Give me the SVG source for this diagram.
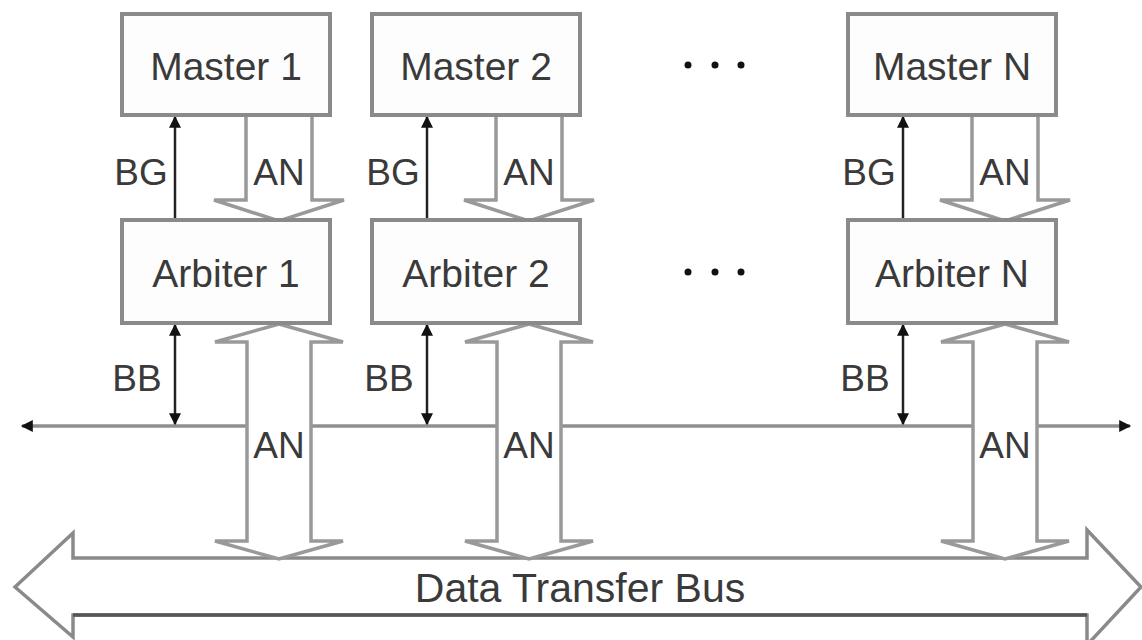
<svg xmlns="http://www.w3.org/2000/svg" width="1142" height="640" viewBox="0 0 1142 640">
<defs>
<marker id="ah" viewBox="0 0 10 10" refX="9" refY="5" markerWidth="14" markerHeight="12" markerUnits="userSpaceOnUse" orient="auto-start-reverse">
<path d="M0,0 L10,5 L0,10 z" fill="#111"/>
</marker>
</defs>
<style>
.box{fill:#fdfdfd;stroke:#8a8a8a;stroke-width:4}
.t{font-family:"Liberation Sans",Arial,sans-serif;fill:#3a3a3a;text-anchor:middle}
.lbl{font-size:37px}
.nm{font-size:39px}
.sig{stroke:#222;stroke-width:2.5;fill:none}
.fat{fill:#fff;stroke:#999;stroke-width:3.5;stroke-linejoin:miter}
.bus{stroke:#8f8f8f;stroke-width:3.5;fill:none}
.dot{fill:#111}
</style>
<rect width="1142" height="640" fill="#fff"/>
<g id="data-transfer-bus">
<polygon points="15,587 73,533 73,558 1087,558 1087,530 1141,587 1087,645 1087,615 73,615 73,637" fill="#fff" stroke="#8a8a8a" stroke-width="3.5"/>
<line x1="73" y1="615" x2="1087" y2="615" stroke="#555" stroke-width="3.5"/>
<text class="t" x="580" y="602" font-size="41">Data Transfer Bus</text>
</g>
<g id="connectors">
<line class="bus" x1="22" y1="426" x2="1130" y2="426" marker-start="url(#ah)" marker-end="url(#ah)"/>
<line class="sig" x1="175" y1="220" x2="175" y2="117" marker-end="url(#ah)"/>
<line class="sig" x1="427" y1="220" x2="427" y2="117" marker-end="url(#ah)"/>
<line class="sig" x1="903" y1="220" x2="903" y2="117" marker-end="url(#ah)"/>
<line class="sig" x1="175" y1="325" x2="175" y2="424" marker-start="url(#ah)" marker-end="url(#ah)"/>
<line class="sig" x1="427" y1="325" x2="427" y2="424" marker-start="url(#ah)" marker-end="url(#ah)"/>
<line class="sig" x1="903" y1="325" x2="903" y2="424" marker-start="url(#ah)" marker-end="url(#ah)"/>
<polygon class="fat" points="246,115 246,200 214,200 279,221 344,200 312,200 312,115"/>
<polygon class="fat" points="496,115 496,200 464,200 529,221 594,200 562,200 562,115"/>
<polygon class="fat" points="972,115 972,200 940,200 1005,221 1070,200 1038,200 1038,115"/>
<polygon class="fat" points="279,324 343,342 311,342 311,541 343,541 279,559 215,541 247,541 247,342 215,342"/>
<polygon class="fat" points="529,324 593,342 561,342 561,541 593,541 529,559 465,541 497,541 497,342 465,342"/>
<polygon class="fat" points="1005,324 1069,342 1037,342 1037,541 1069,541 1005,559 941,541 973,541 973,342 941,342"/>
<text class="t lbl" x="141" y="185">BG</text>
<text class="t lbl" x="393" y="185">BG</text>
<text class="t lbl" x="869" y="185">BG</text>
<text class="t lbl" x="279" y="185">AN</text>
<text class="t lbl" x="529" y="185">AN</text>
<text class="t lbl" x="1005" y="185">AN</text>
<text class="t lbl" x="137" y="391">BB</text>
<text class="t lbl" x="389" y="391">BB</text>
<text class="t lbl" x="865" y="391">BB</text>
<text class="t lbl" x="279" y="458">AN</text>
<text class="t lbl" x="529" y="458">AN</text>
<text class="t lbl" x="1005" y="458">AN</text>
</g>
<g id="master-1"><rect class="box" x="122" y="14" width="208" height="101"/><text class="t nm" x="226" y="80">Master 1</text></g>
<g id="master-2"><rect class="box" x="372" y="14" width="208" height="101"/><text class="t nm" x="476" y="80">Master 2</text></g>
<g id="master-n"><rect class="box" x="848" y="14" width="208" height="101"/><text class="t nm" x="952" y="80">Master N</text></g>
<g id="arbiter-1"><rect class="box" x="122" y="220" width="208" height="103"/><text class="t nm" x="226" y="287">Arbiter 1</text></g>
<g id="arbiter-2"><rect class="box" x="372" y="220" width="208" height="103"/><text class="t nm" x="476" y="287">Arbiter 2</text></g>
<g id="arbiter-n"><rect class="box" x="848" y="220" width="208" height="103"/><text class="t nm" x="952" y="287">Arbiter N</text></g>
<g id="ellipsis-top"><circle class="dot" cx="688" cy="65" r="3.5"/><circle class="dot" cx="715" cy="65" r="3.5"/><circle class="dot" cx="741" cy="65" r="3.5"/></g>
<g id="ellipsis-mid"><circle class="dot" cx="688" cy="272" r="3.5"/><circle class="dot" cx="715" cy="272" r="3.5"/><circle class="dot" cx="741" cy="272" r="3.5"/></g>
</svg>
